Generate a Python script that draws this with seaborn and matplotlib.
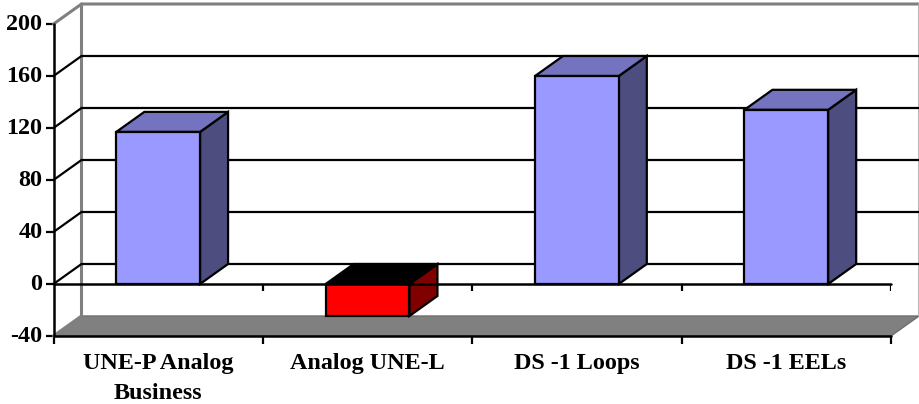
import matplotlib
matplotlib.use("Agg")
import matplotlib.pyplot as plt
import matplotlib.transforms as mtrans
import seaborn as sns
from matplotlib.patches import Polygon

categories = ["UNE-P Analog\nBusiness", "Analog UNE-L", "DS -1 Loops", "DS -1 EELs"]
values = [117, -24.6, 160, 134]
y_ticks = [-40, 0, 40, 80, 120, 160, 200]
y_labels = ["-40", "0", "40", "80", "120", "160", "200"]
front_colors = ["#9999FF", "#FF0000", "#9999FF", "#9999FF"]
side_colors = ["#4D4D80", "#800000", "#4D4D80", "#4D4D80"]
top_colors = ["#7373BF", "#000000", "#7373BF", "#7373BF"]

W, H = 919, 404
DX = 28 / 209.4   # depth in category units
DY = 20 / 1.3     # depth in value units

sns.set_theme(style="white")
plt.rcParams["font.family"] = ["Liberation Serif", "DejaVu Serif"]
plt.rcParams["font.weight"] = "bold"

fig = plt.figure(figsize=(W / 100, H / 100), dpi=100, facecolor="white")
ax = fig.add_axes([53.5 / W, 1 - 336 / H, (891 - 53.5) / W, (336 - 24) / H])

sns.barplot(x=categories, y=values, hue=categories, palette=front_colors, width=0.4,
            edgecolor="black", linewidth=1.6, legend=False, dodge=False, saturation=1,
            ax=ax, zorder=5)
ax.set_xlim(-0.5, 3.5)
ax.set_ylim(-40, 200)
ax.patch.set_alpha(0)
for s in ax.spines.values():
    s.set_visible(False)

x0, x1 = -0.5, 3.5
GRAY = "#808080"
# floor
ax.add_patch(Polygon([(x0, -40), (x1, -40), (x1 + DX, -40 + DY), (x0 + DX, -40 + DY)],
                     closed=True, fc=GRAY, ec="#6E6E6E", lw=1.0, clip_on=False, zorder=1))
# walls
ax.plot([x0, x0 + DX, x0 + DX], [-40, -40 + DY, 200 + DY], color=GRAY, lw=2.2, clip_on=False, zorder=1.2)
ax.plot([x0, x0 + DX, x1 + DX], [200, 200 + DY, 200 + DY],
        color=GRAY, lw=2.2, clip_on=False, zorder=1.2, solid_joinstyle="miter")
ax.plot([x1 + DX, x1 + DX], [200 + DY, -40 + DY], color="#A8A8A8", lw=1.2, clip_on=False, zorder=1.3)
# gridlines
for v in y_ticks[1:-1]:
    ax.plot([x0, x0 + DX, x1 + DX], [v, v + DY, v + DY], color="black", lw=1.6,
            clip_on=False, zorder=1.5)

# 3D faces for each seaborn bar
for p, val, sc, tc in zip(ax.patches, values, side_colors, top_colors):
    a = p.get_x()
    b = a + p.get_width()
    up = max(val, 0)
    low = min(val, 0)
    ax.add_patch(Polygon([(b, low), (b + DX, low + DY), (b + DX, up + DY), (b, up)],
                         closed=True, fc=sc, ec="black", lw=1.6, clip_on=False, zorder=4))
    ax.add_patch(Polygon([(a, up), (b, up), (b + DX, up + DY), (a + DX, up + DY)],
                         closed=True, fc=tc, ec="black", lw=1.6, clip_on=False, zorder=4))

# front axes
bounds = [i - 0.5 for i in range(len(categories) + 1)]
ax.plot([x0, x0], [-40, 200], color="black", lw=1.8, zorder=6, clip_on=False)
ax.plot([x0, x1], [-40, -40], color="black", lw=1.8, zorder=6, clip_on=False)
ax.plot([x0, x1], [0, 0], color="black", lw=1.8, zorder=6, clip_on=False)
ax.vlines(bounds[1:], -5.4, 0, color="black", lw=1.6, zorder=6)

ax.set_yticks(y_ticks, y_labels, fontsize=17.4, fontweight="bold", color="black")
ax.tick_params(axis="y", which="major", left=True, length=6, width=1.6, color="black", pad=2)
shift = mtrans.ScaledTranslation(0, 1.5 / 100, fig.dpi_scale_trans)
for lab in ax.get_yticklabels():
    lab.set_transform(lab.get_transform() + shift)
ax.set_xticks(range(len(categories)), categories, fontsize=17.4, fontweight="bold", color="black",
              linespacing=1.58)
ax.set_xticks(bounds, minor=True)
ax.tick_params(axis="x", which="major", bottom=False, length=0, pad=12)
ax.tick_params(axis="x", which="minor", bottom=True, length=6, width=1.6, color="black")
ax.set_xlabel("")
ax.set_ylabel("")

fig.savefig("out.png", dpi=100, facecolor="white")
